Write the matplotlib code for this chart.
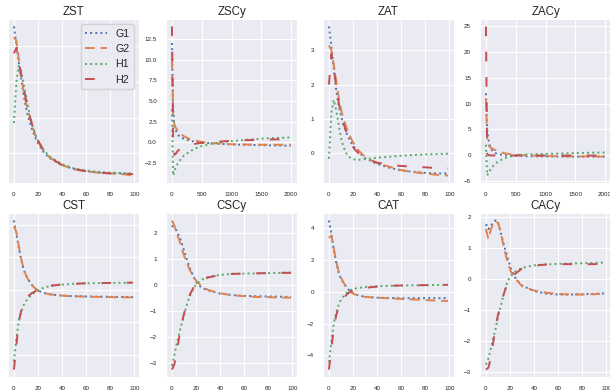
import matplotlib
matplotlib.use('Agg')
import matplotlib.pyplot as plt
import seaborn as sns

sns.set_style('darkgrid')
plt.rcParams['font.family'] = ['Liberation Sans', 'DejaVu Sans']

labels = ['G1', 'G2', 'H1', 'H2']

# sample points along the horizontal axis
x100 = [0, 2, 4, 6, 8, 10, 12, 15, 18, 21, 25, 30, 40, 50, 60, 70, 80, 90, 99]
x2000 = [0, 20, 40, 60, 100, 150, 200, 300, 400, 500, 700, 1000, 1300, 1600, 2000]

# ZST
zst_g1 = [3.55, 3.05, 2.55, 2.1, 1.65, 1.28, 1.0, 0.68, 0.42, 0.22, 0.02, -0.14, -0.33, -0.44, -0.5, -0.53, -0.55, -0.56, -0.58]
zst_g2 = [3.25, 3.15, 2.65, 2.15, 1.75, 1.42, 1.15, 0.78, 0.5, 0.28, 0.05, -0.12, -0.33, -0.44, -0.5, -0.54, -0.56, -0.58, -0.62]
zst_h1 = [0.85, 2.0, 2.45, 2.3, 1.95, 1.6, 1.25, 0.8, 0.5, 0.28, 0.08, -0.1, -0.3, -0.42, -0.48, -0.52, -0.54, -0.55, -0.56]
zst_h2 = [2.8, 2.95, 2.6, 2.2, 1.85, 1.5, 1.2, 0.82, 0.52, 0.3, 0.06, -0.12, -0.33, -0.44, -0.5, -0.54, -0.56, -0.57, -0.58]

# ZSCy
zscy_g1 = [12, 4, 2, 1.5, 0.9, 0.6, 0.45, 0.2, 0.05, -0.02, -0.12, -0.25, -0.3, -0.35, -0.4]
zscy_g2 = [10, 3, 2.2, 1.8, 1.4, 1.0, 0.75, 0.4, 0.2, 0.05, -0.1, -0.22, -0.26, -0.28, -0.28]
zscy_h1 = [4, -4, -3.5, -3.1, -2.5, -2.0, -1.6, -1.1, -0.7, -0.45, -0.1, 0.15, 0.35, 0.5, 0.6]
zscy_h2 = [14, 0.5, -1.5, -1.4, -1.0, -0.75, -0.55, -0.3, -0.15, -0.05, 0.05, 0.2, 0.28, 0.35, 0.4]

# ZAT
zat_g1 = [3.7, 3.1, 2.45, 1.85, 1.4, 1.1, 0.82, 0.55, 0.33, 0.17, 0.02, -0.15, -0.32, -0.43, -0.51, -0.55, -0.58, -0.6, -0.6]
zat_g2 = [3.15, 3.0, 2.6, 2.1, 1.65, 1.27, 1.0, 0.7, 0.45, 0.25, 0.06, -0.12, -0.3, -0.4, -0.5, -0.56, -0.6, -0.64, -0.66]
zat_h1 = [-0.17, 1.2, 1.55, 1.25, 0.85, 0.45, 0.18, -0.05, -0.15, -0.19, -0.2, -0.18, -0.14, -0.11, -0.08, -0.06, -0.04, -0.03, -0.02]
zat_h2 = [2.0, 2.9, 2.5, 1.95, 1.5, 1.15, 0.88, 0.55, 0.3, 0.12, -0.02, -0.17, -0.28, -0.35, -0.38, -0.4, -0.42, -0.44, -0.45]

# ZACy
zacy_g1 = [12, 5, 3, 2, 0.9, 0.4, 0.15, -0.05, -0.15, -0.2, -0.25, -0.28, -0.3, -0.3, -0.3]
zacy_g2 = [11, 3, 2.0, 1.6, 1.3, 1.0, 0.75, 0.35, 0.15, 0.05, -0.1, -0.2, -0.25, -0.28, -0.3]
zacy_h1 = [2, -4, -3.5, -3.1, -2.4, -1.8, -1.3, -0.7, -0.3, -0.1, 0.1, 0.2, 0.3, 0.4, 0.5]
zacy_h2 = [25, 0.2, 0.0, -0.05, -0.1, -0.1, -0.1, -0.1, -0.1, -0.1, -0.1, -0.12, -0.12, -0.12, -0.1]

# CST
cst_g1 = [4.26, 3.45, 2.6, 1.85, 1.25, 0.88, 0.6, 0.3, 0.08, -0.08, -0.2, -0.28, -0.36, -0.39, -0.41, -0.42, -0.43, -0.44, -0.45]
cst_g2 = [3.9, 3.55, 2.7, 1.9, 1.3, 0.9, 0.6, 0.28, 0.05, -0.1, -0.2, -0.28, -0.36, -0.4, -0.42, -0.44, -0.45, -0.46, -0.47]
cst_h1 = [-4.4, -3.0, -1.9, -1.35, -0.95, -0.7, -0.5, -0.28, -0.12, 0.02, 0.13, 0.23, 0.32, 0.37, 0.4, 0.41, 0.42, 0.43, 0.44]
cst_h2 = [-4.9, -3.4, -2.0, -1.3, -0.8, -0.55, -0.38, -0.2, -0.08, 0.05, 0.15, 0.25, 0.33, 0.37, 0.4, 0.41, 0.42, 0.43, 0.44]

# CSCy
cscy_g1 = [2.3, 2.2, 2.1, 1.9, 1.65, 1.35, 1.05, 0.65, 0.32, 0.06, -0.1, -0.2, -0.32, -0.38, -0.41, -0.42, -0.43, -0.44, -0.45]
cscy_g2 = [2.5, 2.3, 2.0, 1.75, 1.45, 1.15, 0.9, 0.57, 0.32, 0.12, -0.05, -0.18, -0.31, -0.38, -0.42, -0.45, -0.46, -0.47, -0.48]
cscy_h1 = [-3.1, -2.7, -2.25, -1.85, -1.5, -1.15, -0.8, -0.4, -0.1, 0.08, 0.22, 0.32, 0.4, 0.44, 0.45, 0.46, 0.47, 0.48, 0.49]
cscy_h2 = [-3.25, -3.05, -2.55, -2.0, -1.5, -1.1, -0.75, -0.35, -0.08, 0.08, 0.2, 0.3, 0.4, 0.44, 0.45, 0.46, 0.47, 0.48, 0.48]

# CAT
cat_g1 = [4.5, 3.65, 2.65, 1.85, 1.2, 0.82, 0.55, 0.25, 0.0, -0.13, -0.24, -0.31, -0.37, -0.39, -0.4, -0.4, -0.4, -0.4, -0.4]
cat_g2 = [3.4, 3.55, 2.75, 1.95, 1.3, 0.9, 0.6, 0.22, 0.0, -0.15, -0.25, -0.32, -0.37, -0.41, -0.45, -0.48, -0.52, -0.56, -0.58]
cat_h1 = [-4.45, -3.1, -2.0, -1.3, -0.85, -0.5, -0.3, -0.05, 0.12, 0.2, 0.25, 0.3, 0.35, 0.38, 0.4, 0.41, 0.42, 0.43, 0.44]
cat_h2 = [-4.9, -3.6, -2.3, -1.5, -0.95, -0.65, -0.42, -0.15, 0.02, 0.12, 0.2, 0.25, 0.33, 0.38, 0.4, 0.41, 0.42, 0.43, 0.44]

# CACy
cacy_g1 = [1.78, 1.62, 1.73, 1.83, 1.9, 1.85, 1.55, 1.1, 0.7, 0.33, 0.0, -0.2, -0.38, -0.46, -0.49, -0.49, -0.48, -0.47, -0.45]
cacy_g2 = [1.62, 1.3, 1.6, 1.8, 1.88, 1.82, 1.58, 1.0, 0.55, 0.22, 0.0, -0.22, -0.36, -0.43, -0.47, -0.49, -0.49, -0.48, -0.46]
cacy_h1 = [-2.75, -2.55, -2.25, -1.9, -1.6, -1.2, -0.9, -0.45, -0.05, 0.12, 0.27, 0.37, 0.45, 0.48, 0.5, 0.51, 0.52, 0.53, 0.54]
cacy_h2 = [-2.91, -2.85, -2.55, -2.05, -1.55, -1.15, -0.85, -0.45, -0.12, 0.08, 0.2, 0.35, 0.44, 0.48, 0.49, 0.49, 0.49, 0.49, 0.5]

panels = [
    ('ZST', x100, [zst_g1, zst_g2, zst_h1, zst_h2], [0, 1, 2, 3]),
    ('ZSCy', x2000, [zscy_g1, zscy_g2, zscy_h1, zscy_h2], [-2.5, 0, 2.5, 5, 7.5, 10, 12.5]),
    ('ZAT', x100, [zat_g1, zat_g2, zat_h1, zat_h2], [0, 1, 2, 3]),
    ('ZACy', x2000, [zacy_g1, zacy_g2, zacy_h1, zacy_h2], [-5, 0, 5, 10, 15, 20, 25]),
    ('CST', x100, [cst_g1, cst_g2, cst_h1, cst_h2], [-4, -2, 0, 2, 4]),
    ('CSCy', x100, [cscy_g1, cscy_g2, cscy_h1, cscy_h2], [-3, -2, -1, 0, 1, 2]),
    ('CAT', x100, [cat_g1, cat_g2, cat_h1, cat_h2], [-4, -2, 0, 2, 4]),
    ('CACy', x100, [cacy_g1, cacy_g2, cacy_h1, cacy_h2], [-3, -2, -1, 0, 1, 2]),
]

colors = ['#4c72b0', '#dd8452', '#55a868', '#c44e52']
styles = [':', (0, (5, 3)), ':', (0, (5, 8))]

fig = plt.figure(figsize=(6.1, 3.92), dpi=100)
# axes boxes in pixels (left, bottom); the left column labels run off the edge like the original
lefts = [8, 166, 323, 480]
bottoms = [183, 377]
for i, (title, xs, series, yticks) in enumerate(panels):
    left = lefts[i % 4]
    bottom = bottoms[i // 4]
    ax = fig.add_axes([left / 610, (392 - bottom) / 392, 131 / 610, 164 / 392])
    for ys, lab, c, ls in zip(series, labels, colors, styles):
        ax.plot(xs, ys, color=c, linestyle=ls, linewidth=1.4, label=lab)
    ax.set_title(title, fontsize=8.3, pad=3)
    if xs[-1] > 1000:
        ax.set_xticks([0, 500, 1000, 1500, 2000])
    else:
        ax.set_xticks([0, 20, 40, 60, 80, 100])
    ax.set_yticks(yticks)
    ax.tick_params(labelsize=4.5, pad=3)
    if i == 0:
        ax.legend(loc='upper right', fontsize=7.7)

fig.savefig('out.png', dpi=100)
